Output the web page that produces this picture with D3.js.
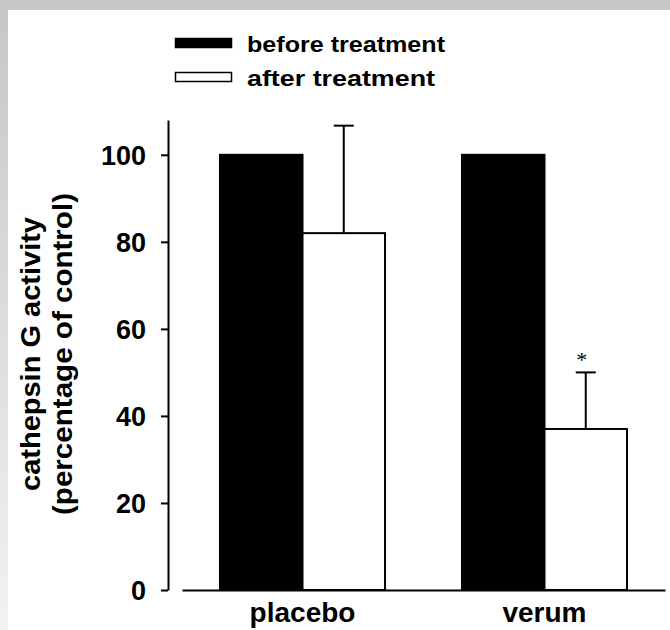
<!DOCTYPE html>
<html>
<head>
<meta charset="utf-8">
<script src="https://cdn.jsdelivr.net/npm/d3@7"></script>
<style>
  body { margin: 0; background: #fff; }
  svg text { font-family: "Liberation Sans", Arial, sans-serif; font-weight: bold; fill: #000; }
</style>
</head>
<body>
<div id="chart"></div>
<script>
// data
const groups = ["placebo", "verum"];
const subgroups = ["before treatment", "after treatment"];
const beforeValues = [100, 100];
const afterValues = [82, 37];
const afterErrors = [24.7, 13];
const yTicks = [0, 20, 40, 60, 80, 100];
const yLabelLines = ["cathepsin G activity", "(percentage of control)"];

const W = 670, H = 630;

const svg = d3.select("#chart")
  .append("svg")
    .attr("width", W)
    .attr("height", H);

// grey frame on top and left like the scanned figure
const grad = svg.append("defs").append("linearGradient")
  .attr("id", "frameGrad").attr("x1", 0).attr("y1", 0).attr("x2", 0).attr("y2", 1);
grad.append("stop").attr("offset", "0%").attr("stop-color", "#c6c6c6");
grad.append("stop").attr("offset", "100%").attr("stop-color", "#f2f2f2");
svg.append("rect").attr("x", 0).attr("y", 0).attr("width", W).attr("height", H).attr("fill", "#fff");
svg.append("rect").attr("x", 0).attr("y", 0).attr("width", 8).attr("height", H).attr("fill", "url(#frameGrad)");
svg.append("rect").attr("x", 0).attr("y", 0).attr("width", W).attr("height", 10).attr("fill", "#c6c6c6");

// scales
const y = d3.scaleLinear()
  .domain([0, 108])
  .range([590, 120]);

const x = d3.scaleBand()
  .domain(groups)
  .range([182, 665])
  .paddingInner(0.318)
  .paddingOuter(0.157);

const xSub = d3.scaleBand()
  .domain(subgroups)
  .range([0, x.bandwidth()])
  .padding(0);

const color = d3.scaleOrdinal()
  .domain(subgroups)
  .range(["#000", "#fff"]);

// Y axis
const yAxis = svg.append("g")
  .attr("transform", "translate(168,0)")
  .call(d3.axisLeft(y).tickValues(yTicks).tickSize(7).tickSizeOuter(0).tickPadding(15));
yAxis.select(".domain").attr("stroke-width", 2);
yAxis.selectAll(".tick line").attr("stroke-width", 2);
yAxis.selectAll(".tick text").style("font-size", "27px").attr("dy", "0.36em");

// X axis
const xAxis = svg.append("g")
  .attr("transform", "translate(0,590)")
  .call(d3.axisBottom(x).tickSize(0).tickSizeOuter(0).tickPadding(12));
xAxis.select(".domain").attr("stroke-width", 2);
xAxis.selectAll(".tick text").style("font-size", "28px").attr("dy", "0.71em");

// bars
const rows = groups.map((g, i) => ({
  group: g,
  values: [
    {key: subgroups[0], value: beforeValues[i], err: 0},
    {key: subgroups[1], value: afterValues[i], err: afterErrors[i]}
  ]
}));

const gBars = svg.append("g")
  .selectAll("g")
  .data(rows)
  .join("g")
    .attr("transform", d => `translate(${x(d.group)},0)`);

// error bars (upper only)
gBars.selectAll("g.err")
  .data(d => d.values.filter(v => v.err > 0))
  .join("g")
    .attr("class", "err")
    .each(function(d) {
      const cx = xSub(d.key) + xSub.bandwidth() / 2;
      const g = d3.select(this);
      g.append("line").attr("x1", cx).attr("x2", cx)
        .attr("y1", y(d.value)).attr("y2", y(d.value + d.err))
        .attr("stroke", "#000").attr("stroke-width", 2);
      g.append("line").attr("x1", cx - 10).attr("x2", cx + 10)
        .attr("y1", y(d.value + d.err)).attr("y2", y(d.value + d.err))
        .attr("stroke", "#000").attr("stroke-width", 2);
    });

gBars.selectAll("rect")
  .data(d => d.values)
  .join("rect")
    .attr("x", d => xSub(d.key))
    .attr("y", d => y(d.value))
    .attr("width", xSub.bandwidth())
    .attr("height", d => y(0) - y(d.value))
    .attr("fill", d => color(d.key))
    .attr("stroke", "#000")
    .attr("stroke-width", 2);

// significance star over verum / after
svg.append("text")
  .attr("x", x("verum") + xSub(subgroups[1]) + xSub.bandwidth() / 2 - 4)
  .attr("y", y(afterValues[1] + afterErrors[1]) - 5)
  .attr("text-anchor", "middle")
  .style("font-family", "'Liberation Serif', serif")
  .style("font-weight", "normal")
  .style("font-size", "22px")
  .text("*");

// y axis title
const yTitle = svg.append("text")
  .attr("transform", "translate(0,354) rotate(-90)")
  .attr("text-anchor", "middle")
  .style("font-size", "27px");
yTitle.selectAll("tspan")
  .data(yLabelLines)
  .join("tspan")
    .attr("x", 0)
    .attr("y", (d, i) => 40 + i * 32)
    .attr("textLength", (d, i) => i === 0 ? 274 : 322)
    .attr("lengthAdjust", "spacingAndGlyphs")
    .text(d => d);

// legend
const legend = svg.append("g")
  .selectAll("g")
  .data(subgroups)
  .join("g")
    .attr("transform", (d, i) => `translate(175,${38 + i * 34})`);
legend.append("rect")
  .attr("x", 0.5).attr("y", 0.5)
  .attr("width", 56).attr("height", 9)
  .attr("fill", d => color(d))
  .attr("stroke", "#000")
  .attr("stroke-width", 1.5);
legend.append("text")
  .attr("x", 72)
  .attr("y", 14)
  .style("font-size", "22px")
  .attr("textLength", (d, i) => i === 0 ? 198 : 188)
  .attr("lengthAdjust", "spacingAndGlyphs")
  .text(d => d);
</script>
</body>
</html>
